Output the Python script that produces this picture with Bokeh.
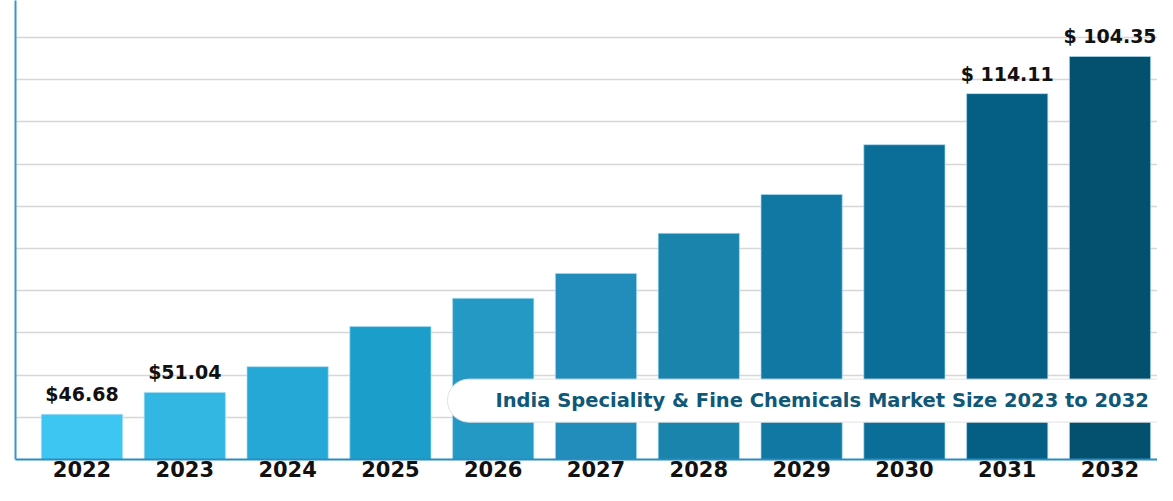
from bokeh.plotting import figure
from bokeh.models import ColumnDataSource, LabelSet, Label, FixedTicker, Range1d
from bokeh.core.properties import value
from bokeh.embed import file_html
from bokeh.resources import INLINE

years = ["2022", "2023", "2024", "2025", "2026", "2027", "2028", "2029", "2030", "2031", "2032"]
market_size = [10.7, 15.9, 22.0, 31.5, 38.2, 44.1, 53.6, 62.8, 74.6, 86.7, 95.5]
value_labels = ["$46.68", "$51.04", "", "", "", "", "", "", "", "$ 114.11", "$ 104.35"]
bar_colors = ["#3cc6f1", "#32b7e3", "#25a8d6", "#1c9ecb", "#2399c4", "#228dbb",
              "#1a84ad", "#1178a3", "#0a6e98", "#055f85", "#03506f"]
title_text = "India Speciality & Fine Chemicals Market Size 2023 to 2032"
grid_ticks = [10, 20, 30, 40, 50, 60, 70, 80, 90, 100]

idx = list(range(len(years)))
src = ColumnDataSource(dict(x=idx, top=market_size, color=bar_colors))
lab_idx = [i for i, t in enumerate(value_labels) if t]
lab_src = ColumnDataSource(dict(x=lab_idx,
                                top=[market_size[i] for i in lab_idx],
                                lab=[value_labels[i] for i in lab_idx]))

p = figure(width=1157, height=485, output_backend="svg", toolbar_location=None,
           x_range=Range1d(-0.647, 10.462), y_range=Range1d(0, 108.77),
           min_border_left=15, min_border_right=0, min_border_top=0, min_border_bottom=26)
p.outline_line_color = None
p.background_fill_color = "white"

p.vbar(x="x", top="top", width=0.79, bottom=0, fill_color="color",
       line_color="#a9dcf2", line_width=1, line_alpha=0.7, source=src)

# axes
p.xaxis.ticker = FixedTicker(ticks=idx)
p.xaxis.major_label_overrides = {i: y for i, y in enumerate(years)}
p.xaxis.major_label_text_font = "DejaVu Sans"
p.xaxis.major_label_text_font_style = "bold"
p.xaxis.major_label_text_font_size = "21px"
p.xaxis.major_label_text_color = "#111111"
p.xaxis.major_label_standoff = 1
p.xaxis.major_tick_line_color = None
p.xaxis.minor_tick_line_color = None
p.xaxis.major_tick_out = 0
p.xaxis.major_tick_in = 0
p.xaxis.axis_line_color = "#2b8cc0"
p.xaxis.axis_line_width = 2

p.yaxis.ticker = FixedTicker(ticks=[])
p.yaxis.major_tick_line_color = None
p.yaxis.minor_tick_line_color = None
p.yaxis.major_tick_out = 0
p.yaxis.major_label_standoff = 0
p.yaxis.axis_line_color = "#3d95c6"
p.yaxis.axis_line_width = 2

p.xgrid.grid_line_color = None
p.ygrid.ticker = FixedTicker(ticks=grid_ticks)
p.ygrid.grid_line_color = "#d6d6d6"
p.ygrid.grid_line_width = 1.5

labels = LabelSet(x="x", y="top", text="lab", source=lab_src, text_align="center",
                  text_baseline="bottom", y_offset=9,
                  text_font=value("DejaVu Sans"), text_font_style="bold",
                  text_font_size="19px", text_color="#111111")
p.add_layout(labels)

# title pill with faint shadow
shadow = Label(x=3.555, y=13.95, text=title_text, text_align="left", text_baseline="middle",
               text_font="DejaVu Sans", text_font_style="bold", text_font_size="19.5px",
               text_color="#000000", text_alpha=0.0,
               background_fill_color="#9a9a9a", background_fill_alpha=0.25,
               padding=(48, 40, 10, 10), border_radius=23, x_offset=-3, y_offset=-2)
p.add_layout(shadow)
pill = Label(x=3.555, y=13.95, text=title_text, text_align="left", text_baseline="middle",
             text_font="DejaVu Sans", text_font_style="bold", text_font_size="19.5px",
             text_color="#0f5878", background_fill_color="white", background_fill_alpha=1.0,
             border_line_color="#e2e2e2", border_line_width=1,
             padding=(48, 40, 10, 10), border_radius=23)
p.add_layout(pill)

open("out.html", "w").write(file_html(p, INLINE))
